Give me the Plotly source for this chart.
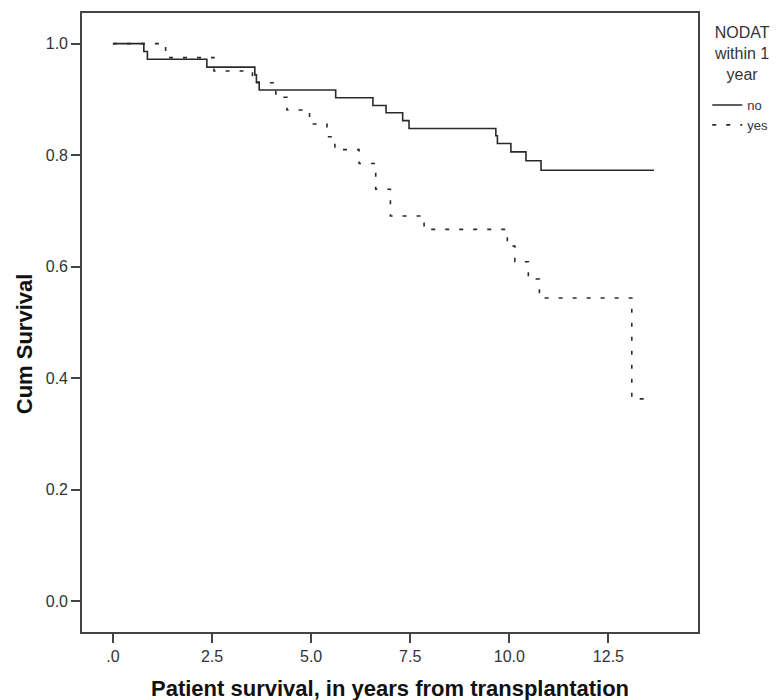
import plotly.graph_objects as go

# Kaplan-Meier step estimates, patient survival by NODAT status
no_time = [0, 0.78, 0.87, 2.37, 3.58, 3.62, 3.69, 5.62, 6.56, 6.89, 7.31, 7.47,
           9.66, 9.70, 10.04, 10.42, 10.80, 13.65]
no_surv = [1.0, 0.986, 0.972, 0.958, 0.944, 0.931, 0.917, 0.903, 0.889, 0.876, 0.862, 0.848,
           0.835, 0.821, 0.806, 0.790, 0.773, 0.773]

yes_time = [0, 1.33, 2.55, 3.52, 4.11, 4.39, 4.96, 5.40, 5.60, 6.21, 6.63, 7.00, 7.85,
            9.95, 10.14, 10.48, 10.76, 13.09, 13.47]
yes_surv = [1.0, 0.975, 0.951, 0.930, 0.904, 0.881, 0.856, 0.833, 0.810, 0.785, 0.739, 0.691, 0.667,
            0.637, 0.609, 0.578, 0.544, 0.363, 0.363]

x_ticks = [0, 2.5, 5.0, 7.5, 10.0, 12.5]
x_tick_text = [".0", "2.5", "5.0", "7.5", "10.0", "12.5"]
y_ticks = [0.0, 0.2, 0.4, 0.6, 0.8, 1.0]

FONT = "Liberation Sans, Arial, sans-serif"
AXIS_COLOR = "#444444"

fig = go.Figure()
fig.add_trace(go.Scatter(
    x=no_time, y=no_surv, name="no", mode="lines", line_shape="hv",
    line=dict(color="#2a2a2a", width=1.6),
))
fig.add_trace(go.Scatter(
    x=yes_time, y=yes_surv, name="yes", mode="lines", line_shape="hv",
    line=dict(color="#2a2a2a", width=1.6, dash="4px,10px"),
))

axis_common = dict(
    showline=True, linecolor=AXIS_COLOR, linewidth=1.6, mirror=True,
    ticks="outside", ticklen=9, tickwidth=1.5, tickcolor=AXIS_COLOR,
    showgrid=False, zeroline=False,
    tickfont=dict(family=FONT, size=16, color="#333333"),
)

fig.update_xaxes(range=[-0.78, 14.76], tickvals=x_ticks, ticktext=x_tick_text, **axis_common)
fig.update_yaxes(range=[-0.055, 1.055], tickvals=y_ticks, tickformat=".1f", **axis_common)

fig.add_annotation(
    text="<b>Patient survival, in years from transplantation</b>",
    xref="paper", yref="paper", x=0.5, y=-0.0905, yanchor="middle", showarrow=False,
    font=dict(family=FONT, size=22, color="#111111"),
)
fig.add_annotation(
    text="<b>Cum Survival</b>",
    xref="paper", yref="paper", x=-0.094, y=0.465, xanchor="center", yanchor="middle",
    textangle=-90, showarrow=False,
    font=dict(family=FONT, size=22, color="#111111"),
)
# legend heading, centred over the legend entries
fig.add_annotation(
    text="NODAT<br>within 1<br>year", align="center",
    xref="paper", yref="paper", x=(742 - 82.3) / 615.4, y=(632 - 53) / 619,
    xanchor="center", yanchor="middle", showarrow=False,
    font=dict(family=FONT, size=16, color="#333333"),
)

fig.update_layout(
    width=778, height=700,
    margin=dict(l=82, r=80, t=13, b=68, autoexpand=False),
    plot_bgcolor="white", paper_bgcolor="white",
    font=dict(family=FONT, color="#333333"),
    legend=dict(
        x=1.015, xanchor="left", y=(632 - 90) / 619, yanchor="top",
        font=dict(family=FONT, size=13, color="#333333"),
        itemwidth=30, tracegroupgap=0,
        bgcolor="rgba(0,0,0,0)", borderwidth=0,
    ),
)

fig.write_html("out.html")
